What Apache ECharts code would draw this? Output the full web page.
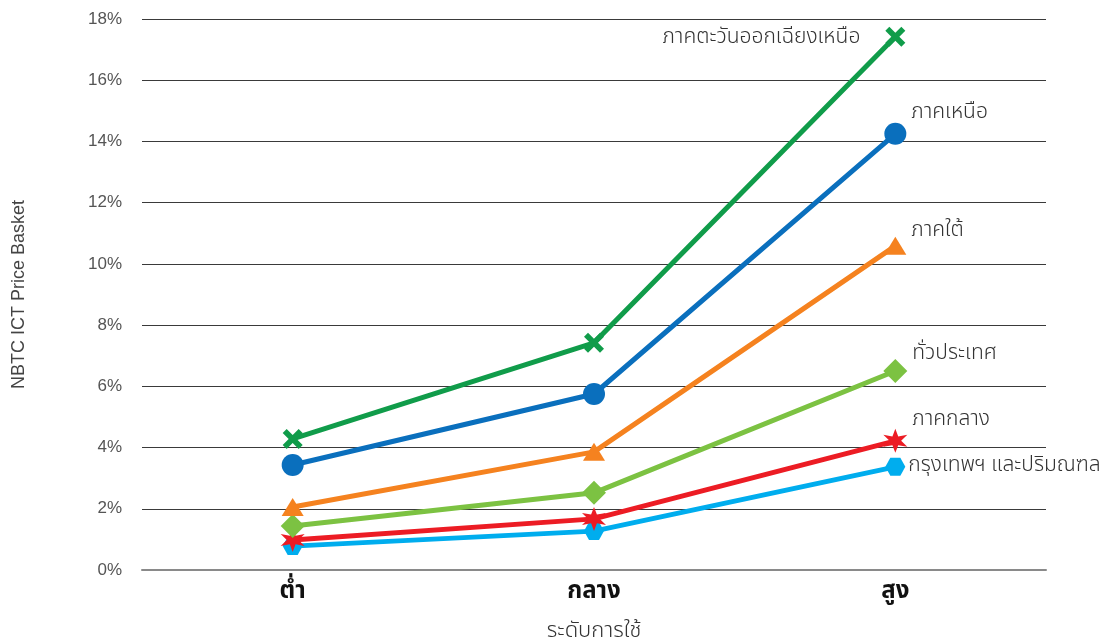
<!DOCTYPE html>
<html>
<head>
<meta charset="utf-8">
<script src="https://cdn.jsdelivr.net/npm/echarts@6/dist/echarts.min.js"></script>
<style>
  html, body { margin: 0; padding: 0; background: #fff; }
  #chart { width: 1104px; height: 643px; }
</style>
</head>
<body>
<div id="chart"></div>
<script>
// Usage levels on the x axis
const categories = ['ต่ำ', 'กลาง', 'สูง'];

// Regions and their price basket shares (% of income) per usage level
const seriesNames = [
  'ภาคตะวันออกเฉียงเหนือ',
  'ภาคเหนือ',
  'ภาคใต้',
  'ทั่วประเทศ',
  'ภาคกลาง',
  'กรุงเทพฯ และปริมณฑล'
];
const northeast = [4.28, 7.42, 17.42];
const north     = [3.43, 5.75, 14.25];
const south     = [2.06, 3.86, 10.59];
const nation    = [1.44, 2.52, 6.50];
const central   = [0.98, 1.67, 4.22];
const bangkok   = [0.78, 1.27, 3.37];

const yTicks = [0, 2, 4, 6, 8, 10, 12, 14, 16, 18];

const colors = ['#109c4a', '#0a6fbd', '#f5821f', '#7cc242', '#ec1c24', '#00adee'];

const crossPath = 'path://M0,2 L2,0 L5,3 L8,0 L10,2 L7,5 L10,8 L8,10 L5,7 L2,10 L0,8 L3,5 Z';
const hexPath = 'path://M2.5,0 L7.5,0 L10,4.33 L7.5,8.66 L2.5,8.66 L0,4.33 Z';
const starPath = (function () {
  const pts = [];
  for (let i = 0; i < 12; i++) {
    const a = Math.PI / 6 * i - Math.PI / 2;
    const r = i % 2 === 0 ? 10 : 4.2;
    pts.push((10 + r * Math.cos(a)).toFixed(2) + ',' + (10 + r * Math.sin(a)).toFixed(2));
  }
  return 'path://M' + pts.join(' L') + ' Z';
})();

const symbols = [crossPath, 'circle', 'triangle', 'diamond', starPath, hexPath];
const symbolSizes = [20, 22, [22, 18], 24, 24, [20, 18]];
const values = [northeast, north, south, nation, central, bangkok];

const THAI = '"Noto Sans Thai", "Noto Sans", "DejaVu Sans", sans-serif';
const LATIN = '"Liberation Sans", Arial, sans-serif';

// label placement for the end-of-line region names
const labelCfg = [
  { position: 'left', offset: [-20, 2] },
  { position: 'right', offset: [0, -20] },
  { position: 'right', offset: [0, -14] },
  { position: 'right', offset: [0, -16] },
  { position: 'right', offset: [0, -20] },
  { position: 'right', offset: [-2, 0] }
];

const series = values.map((vals, i) => ({
  name: seriesNames[i],
  type: 'line',
  data: vals.map((v, j) => {
    const item = { value: v };
    if (j === vals.length - 1) {
      item.label = {
        show: true,
        position: labelCfg[i].position,
        offset: labelCfg[i].offset,
        formatter: seriesNames[i],
        color: '#333',
        fontSize: 21,
        fontWeight: 300,
        fontFamily: THAI
      };
    }
    return item;
  }),
  symbol: symbols[i],
  symbolSize: symbolSizes[i],
  showAllSymbol: true,
  lineStyle: { width: 5, color: colors[i] },
  itemStyle: { color: colors[i] },
  label: { show: false },
  z: 10 - i,
  animation: false
}));

const chart = echarts.init(document.getElementById('chart'));
chart.setOption({
  animation: false,
  grid: { left: 142, right: 58, top: 19, bottom: 73, outerBoundsMode: 'none', containLabel: false },
  xAxis: {
    type: 'category',
    data: categories,
    boundaryGap: true,
    axisLine: { lineStyle: { color: '#8a8a8a', width: 2 } },
    axisTick: { show: false },
    axisLabel: { color: '#111', fontSize: 24, fontWeight: 'bold', fontFamily: THAI, margin: 11 },
    name: 'ระดับการใช้',
    nameLocation: 'middle',
    nameGap: 52,
    nameTextStyle: { color: '#333', fontSize: 22, fontWeight: 300, fontFamily: THAI }
  },
  yAxis: {
    type: 'value',
    min: yTicks[0],
    max: yTicks[yTicks.length - 1],
    interval: 2,
    axisLine: { show: false },
    axisTick: { show: false },
    splitLine: { lineStyle: { color: '#3a3a3a', width: 1 } },
    axisLabel: {
      color: '#555',
      fontSize: 17,
      fontFamily: LATIN,
      margin: 20,
      formatter: v => v + '%'
    },
    name: 'NBTC ICT Price Basket',
    nameLocation: 'middle',
    nameGap: 114,
    nameTextStyle: { color: '#444', fontSize: 18, fontFamily: LATIN }
  },
  series: series
});
</script>
</body>
</html>
